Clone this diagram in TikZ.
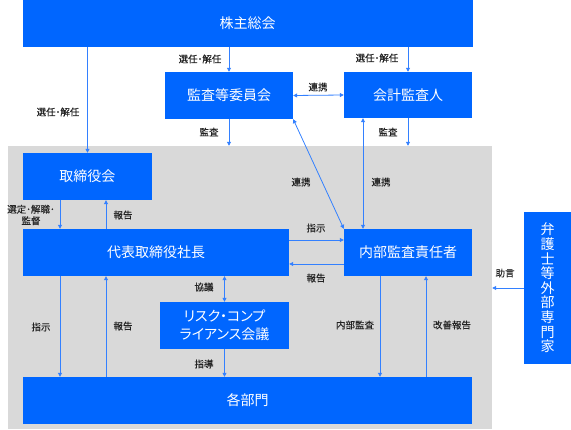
\documentclass[tikz,border=0pt]{standalone}
\usepackage{fontspec}
\setmainfont{Noto Sans CJK JP}
\newfontfamily\labfont[FakeBold=0.15]{Noto Sans CJK JP}
\newfontfamily\paltfont[RawFeature=+palt]{Noto Sans CJK JP}
\usetikzlibrary{arrows.meta}
\definecolor{boxblue}{RGB}{0,102,255}
\definecolor{lineblue}{RGB}{51,128,255}
\definecolor{bggray}{RGB}{217,217,217}
\definecolor{labcol}{RGB}{35,35,35}
\begin{document}
\begin{tikzpicture}[x=1pt,y=-1pt,
  box/.style={fill=boxblue, text=white, inner sep=0pt, font=\fontsize{14}{18}\selectfont, align=center},
  lab/.style={text=labcol, font=\labfont\fontsize{9.5}{11.5}\selectfont, inner sep=0pt, align=center},
  conn/.style={draw=lineblue, line width=0.8pt, -{Triangle[length=4pt,width=4pt]}},
  both/.style={draw=lineblue, line width=0.8pt, {Triangle[length=4pt,width=4pt]}-{Triangle[length=4pt,width=4pt]}}]
\useasboundingbox (0,0) rectangle (571,430);
% background
\node[fill=bggray, minimum width=484pt, minimum height=283pt, inner sep=0pt] (bg) at (250,287.5) {};
% boxes
\node[box, minimum width=450pt, minimum height=47pt] (sh) at (247.5,23.5) {株主総会};
\node[box, minimum width=128pt, minimum height=47pt] (ak) at (229,95.5) {監査等委員会};
\node[box, minimum width=128pt, minimum height=46pt] (kk) at (408,95) {会計監査人};
\node[box, minimum width=129pt, minimum height=47pt] (tb) at (87.5,176.5) {取締役会};
\node[box, minimum width=266pt, minimum height=47pt] (ceo) at (156,252.5) {代表取締役社長};
\node[box, minimum width=128pt, minimum height=47pt] (ia) at (408,252.5) {内部監査責任者};
\node[box, minimum width=129pt, minimum height=47pt, font=\paltfont\fontsize{14}{18}\selectfont] (rc) at (224.5,325.5) {リスク・コンプ\\ライアンス会議};
\node[box, minimum width=449pt, minimum height=47pt] (bu) at (247.5,400.5) {各部門};
\node[box, minimum width=47pt, minimum height=152pt, font=\fontsize{14}{14.6}\selectfont] (ex) at (547.5,288) {弁\\護\\士\\等\\外\\部\\専\\門\\家};
% helper coordinates
\coordinate (xa) at (60,0);
\coordinate (xb) at (106,0);
\coordinate (xc) at (363,0);
\coordinate (xd) at (380,0);
\coordinate (xe) at (426,0);
\coordinate (ya) at (0,240);
\coordinate (yb) at (0,264);
% connectors
\draw[conn] (sh.south -| tb.north) -- (tb.north);
\draw[conn] (sh.south -| ak.north) -- (ak.north);
\draw[conn] (sh.south -| kk.north) -- (kk.north);
\draw[both] (ak.east) -- (kk.west);
\draw[conn] (ak.south) -- (ak.south |- bg.north);
\draw[conn] (kk.south) -- (kk.south |- bg.north);
\draw[both] (ak.south east) -- (ia.north west);
\draw[both] (kk.south -| xc) -- (ia.north -| xc);
\draw[conn] (tb.south -| xa) -- (ceo.north -| xa);
\draw[conn] (ceo.north -| xb) -- (tb.south -| xb);
\draw[conn] (ceo.east |- ya) -- (ia.west |- ya);
\draw[conn] (ia.west |- yb) -- (ceo.east |- yb);
\draw[both] (ceo.south -| rc.north) -- (rc.north);
\draw[conn] (rc.south) -- (bu.north -| rc.south);
\draw[conn] (ceo.south -| xa) -- (bu.north -| xa);
\draw[conn] (bu.north -| xb) -- (ceo.south -| xb);
\draw[conn] (ia.south -| xd) -- (bu.north -| xd);
\draw[conn] (bu.north -| xe) -- (ia.south -| xe);
\draw[conn] (ex.west) -- (bg.east |- ex.west);
% labels
\node[lab] (l1) at (58,112) {選任･解任};
\node[lab] (l2) at (200,59) {選任･解任};
\node[lab] (l3) at (377,58) {選任･解任};
\node[lab] (l4) at (318,87) {連携};
\node[lab] (l5) at (209,132) {監査};
\node[lab] (l6) at (388,132) {監査};
\node[lab] (l7) at (301,182) {連携};
\node[lab] (l8) at (381,182) {連携};
\node[lab] (l9) at (31,215) {選定･解職･\\監督};
\node[lab] (l10) at (123,215) {報告};
\node[lab] (l11) at (316,228) {指示};
\node[lab] (l12) at (316,278) {報告};
\node[lab] (l13) at (204,287) {協議};
\node[lab] (l14) at (204,364) {指導};
\node[lab] (l15) at (41,327) {指示};
\node[lab] (l16) at (123,326) {報告};
\node[lab] (l17) at (355,325) {内部監査};
\node[lab] (l18) at (452,325) {改善報告};
\node[lab] (l19) at (505,273) {助言};
\end{tikzpicture}
\end{document}
